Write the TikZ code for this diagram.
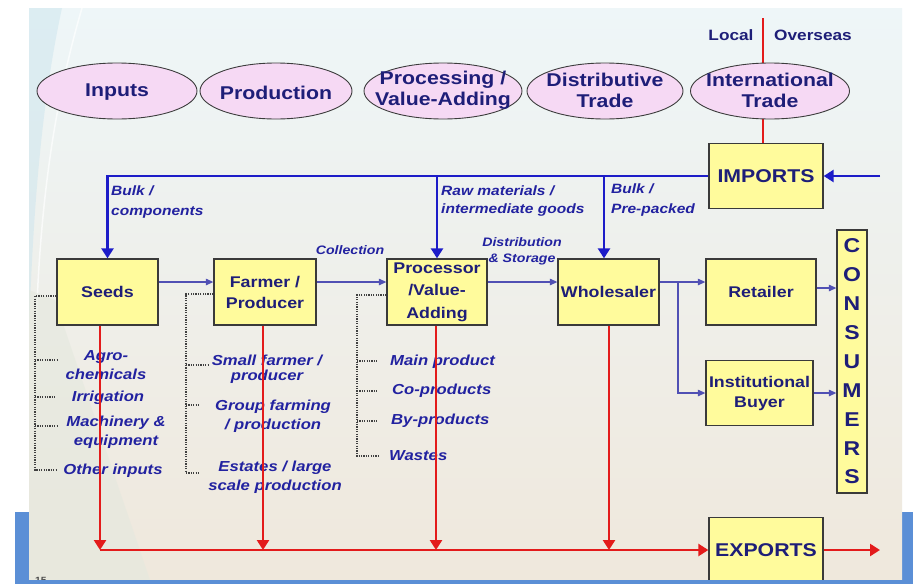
\documentclass[tikz,border=0pt]{standalone}
\usepackage{fontspec}
\newfontfamily\lab{Liberation Sans}[FakeStretch=1.15]
\usetikzlibrary{shapes.geometric,arrows.meta}

\definecolor{bandblue}{HTML}{5B8FD6}
\definecolor{slidetop}{HTML}{EEF6F8}
\definecolor{slidemid}{HTML}{F4F3EE}
\definecolor{slidebot}{HTML}{EFE8DC}
\definecolor{tintblue}{HTML}{CFE6EE}
\definecolor{tintgrey}{HTML}{E4E8DE}
\definecolor{ellfill}{HTML}{F6D9F4}
\definecolor{ellborder}{HTML}{3C3C3C}
\definecolor{boxfill}{HTML}{FFFB9C}
\definecolor{boxborder}{HTML}{3A3A3A}
\definecolor{txtnavy}{HTML}{1E1E78}
\definecolor{itxt}{HTML}{2222A0}
\definecolor{supblue}{HTML}{1C1CC8}
\definecolor{tradeblue}{HTML}{5050B4}
\definecolor{expred}{HTML}{E31B1B}

\tikzset{
  stage/.style={ellipse, draw=ellborder, line width=0.9pt, fill=ellfill,
    minimum width=#1, minimum height=56pt, inner sep=0pt},
  stagetext/.style={inner sep=0pt, align=center, text=txtnavy,
    font=\lab\bfseries\fontsize{18.5}{21}\selectfont},
  actor/.style={rectangle, draw=boxborder, line width=1.3pt, fill=boxfill,
    inner sep=0pt, align=center, text=txtnavy,
    font=\lab\bfseries\fontsize{15.5}{21}\selectfont},
  bigactor/.style={actor, font=\lab\bfseries\fontsize{18.5}{22}\selectfont},
  sidetag/.style={inner sep=0pt, text=txtnavy,
    font=\lab\bfseries\fontsize{15}{18}\selectfont},
  flowlabel/.style={inner sep=0pt, align=left, text=itxt,
    font=\lab\bfseries\itshape\fontsize{13.5}{19.5}\selectfont},
  smalllabel/.style={inner sep=0pt, align=center, text=itxt,
    font=\lab\bfseries\itshape\fontsize{12.3}{16}\selectfont},
  item/.style={inner sep=0pt, align=center, text=itxt,
    font=\lab\bfseries\itshape\fontsize{14.5}{19.5}\selectfont},
  supply/.style={draw=supblue, line width=2.6pt,
    -{Triangle[width=12pt,length=10pt]}},
  export/.style={draw=expred, line width=2.6pt,
    -{Triangle[width=12pt,length=10pt]}},
  trade/.style={draw=tradeblue, line width=1.1pt,
    -{Triangle[width=6.5pt,length=7.5pt]}},
  bracket/.style={draw=black!75, line width=1.1pt,
    dash pattern=on 1.1pt off 1.3pt},
}

\begin{document}
\begin{tikzpicture}[x=1pt,y=-1pt]
\useasboundingbox (0,0) rectangle (913,584);

% slide backdrop and frame
\fill[white] (0,0) rectangle (913,584);
\fill[bandblue] (15,512) rectangle (913,584);
\shade[top color=slidetop, middle color=slidemid, bottom color=slidebot]
  (29,8) rectangle (902,580);
\fill[tintblue, opacity=0.55] (29,8) -- (62,8)
  .. controls (40,110) and (33,220) .. (29,330) -- cycle;
\draw[white, opacity=0.7, line width=1.5pt] (82,8)
  .. controls (55,100) and (40,200) .. (36,330);
\fill[tintgrey, opacity=0.6] (29,290) -- (55,300) -- (150,580) -- (29,580) -- cycle;

% local / overseas divide
\coordinate (divide) at (763,18);
\node[sidetag] (localtag) at (731,35) {Local};
\node[sidetag] (overseastag) at (813,35) {Overseas};

% stages of the chain
\node[stage=160pt] (inputs) at (117,91) {};
\node[stage=152pt] (production) at (276,91) {};
\node[stage=158pt] (processing) at (443,91) {};
\node[stage=156pt] (distributive) at (605,91) {};
\node[stagetext] (inputs-t) at (117,92.5) {Inputs};
\node[stagetext] (production-t) at (276,92.5) {Production};
\node[stagetext] (processing-t) at (443,90.5) {Processing /\\Value-Adding};
\node[stagetext] (distributive-t) at (605,90.5) {Distributive\\Trade};

% actors
\node[actor, minimum width=101pt, minimum height=66pt] (seeds) at (107.5,292) {Seeds};
\node[actor, minimum width=102pt, minimum height=66pt] (farmer) at (265,292) {Farmer /\\Producer};
\node[actor, minimum width=100pt, minimum height=66pt,
  font=\lab\bfseries\fontsize{15.5}{22.5}\selectfont] (proc) at (437,292) {Processor\\/Value-\\Adding};
\node[actor, minimum width=101pt, minimum height=66pt] (whole) at (608.5,292) {Wholesaler};
\node[actor, minimum width=110pt, minimum height=66pt] (retail) at (761,292) {Retailer};
\node[actor, minimum width=107pt, minimum height=65pt,
  font=\lab\bfseries\fontsize{15.5}{20}\selectfont] (inst) at (759.5,393) {Institutional\\Buyer};
\node[actor, minimum width=30pt, minimum height=263pt,
  font=\lab\bfseries\fontsize{20}{28.9}\selectfont] (cons) at (852,361.5) {C\\O\\N\\S\\U\\M\\E\\R\\S};
\node[bigactor, minimum width=114pt, minimum height=65pt] (imports) at (766,176) {IMPORTS};

% divide line runs behind the international trade stage
\draw[expred, line width=1.6pt] (divide) -- (divide |- imports.north);
\node[stage=159pt] (international) at (770,91) {};
\node[stagetext] (international-t) at (770,90.5) {International\\Trade};

% supply lines from imports
\coordinate (overseas) at (880,176);
\coordinate (wtop) at ([xshift=-4.5pt]whole.north);
\draw[supply] (overseas) -- (imports.east);
\draw[supply] (imports.west) -- (imports.west -| seeds.north) -- (seeds.north);
\draw[supply] (imports.west -| proc.north) -- (proc.north);
\draw[supply] (imports.west -| wtop) -- (wtop);

\node[flowlabel, anchor=west] (bulkcomp) at (111,202) {Bulk /\\components};
\node[flowlabel, anchor=west, font=\lab\bfseries\itshape\fontsize{13.5}{18.5}\selectfont] (rawmat) at (441,201) {Raw materials /\\intermediate goods};
\node[flowlabel, anchor=west] (bulkpack) at (611,200) {Bulk /\\Pre-packed};

% domestic trade flows
\coordinate (split) at (678,282);
\draw[trade] ([yshift=10pt]seeds.east) -- ([yshift=10pt]farmer.west);
\draw[trade] ([yshift=10pt]farmer.east) -- ([yshift=10pt]proc.west);
\draw[trade] ([yshift=10pt]proc.east) -- ([yshift=10pt]whole.west);
\draw[trade] ([yshift=10pt]whole.east) -- ([yshift=10pt]retail.west);
\draw[trade] (split) |- (inst.west);
\draw[trade] ([yshift=4pt]retail.east) -- ([yshift=4pt]retail.east -| cons.west);
\draw[trade] (inst.east) -- (inst.east -| cons.west);

\node[smalllabel] (collection) at (350,250) {Collection};
\node[smalllabel] (diststore) at (522,251) {Distribution\\\& Storage};

% breakdown of each actor
\draw[bracket] ([yshift=-4pt]seeds.west) -| (35,470) -- (57,470);
\draw[bracket] (35,360) -- (57,360);
\draw[bracket] (35,397) -- (55,397);
\draw[bracket] (35,426) -- (57,426);

\draw[bracket] ([yshift=-2pt]farmer.west) -| (186,473) -- (200,473);
\draw[bracket] (186,365) -- (208,365);
\draw[bracket] (186,405) -- (200,405);

\draw[bracket] ([yshift=-3pt]proc.west) -| (357,456) -- (378,456);
\draw[bracket] (357,361) -- (378,361);
\draw[bracket] (357,391) -- (378,391);
\draw[bracket] (357,421) -- (378,421);

\node[item] (agro) at (106,365) {Agro-\\chemicals};
\node[item] (irrig) at (108,398) {Irrigation};
\node[item, font=\lab\bfseries\itshape\fontsize{14.5}{19}\selectfont] (mach) at (116,432) {Machinery \&\\equipment};
\node[item] (other) at (113,471) {Other inputs};

\node[item, font=\lab\bfseries\itshape\fontsize{14.5}{15}\selectfont] (small) at (267,369) {Small farmer /\\producer};
\node[item, font=\lab\bfseries\itshape\fontsize{14.5}{19}\selectfont] (group) at (273,416) {Group farming\\/ production};
\node[item, font=\lab\bfseries\itshape\fontsize{14.5}{19}\selectfont] (estates) at (275,477) {Estates / large\\scale production};

\node[item, anchor=west] (mainprod) at (390,362) {Main product};
\node[item, anchor=west] (coprod) at (392,391) {Co-products};
\node[item, anchor=west] (byprod) at (391,421) {By-products};
\node[item, anchor=west] (wastes) at (389,456) {Wastes};

% exports, drawn across the item lists
\node[bigactor, minimum width=114pt, minimum height=65pt] (exports) at (766,550) {EXPORTS};
\coordinate (exportline) at (100,550);
\coordinate (abroad) at (880,550);
\draw[export] ([xshift=-7.5pt]seeds.south) -- ([xshift=-7.5pt]seeds.south |- exportline);
\draw[export] ([xshift=-2pt]farmer.south) -- ([xshift=-2pt]farmer.south |- exportline);
\draw[export] ([xshift=-1pt]proc.south) -- ([xshift=-1pt]proc.south |- exportline);
\draw[export] ([xshift=0.5pt]whole.south) -- ([xshift=0.5pt]whole.south |- exportline);
\draw[export] (exportline) -- (exports.west);
\draw[export] (exports.east) -- (abroad);

% slide number and lower edge of the frame
\node[inner sep=0pt, anchor=base west, text=black!70,
  font=\lab\bfseries\fontsize{9}{10}\selectfont] (slideno) at (35,583) {15};
\fill[bandblue] (15,580) rectangle (913,584);
\end{tikzpicture}
\end{document}
